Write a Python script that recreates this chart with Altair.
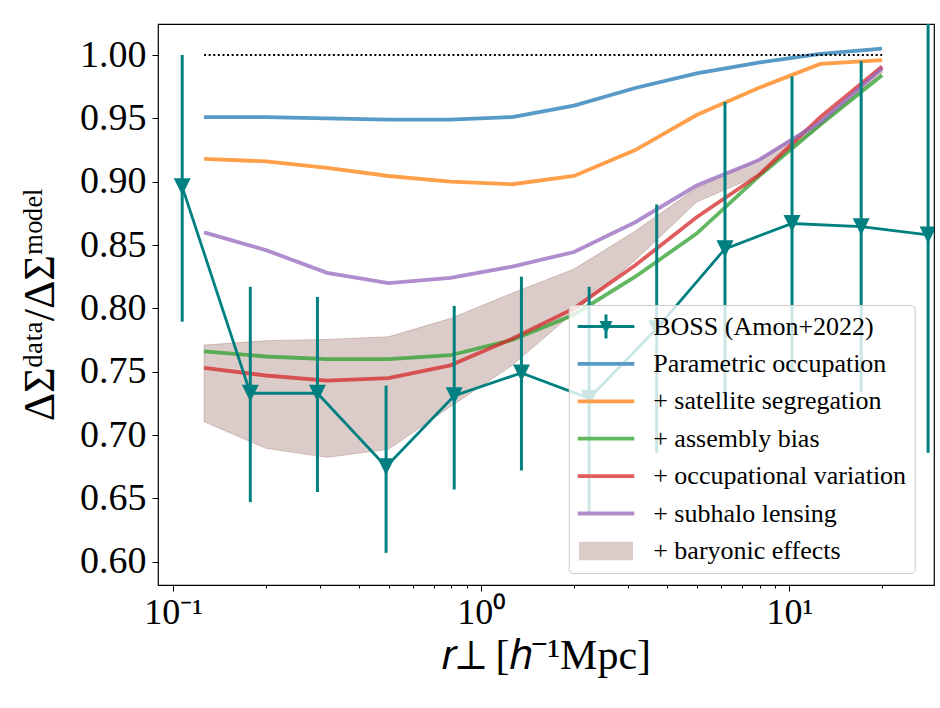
import altair as alt
import pandas as pd

# ---------------- data ----------------
# BOSS measurements (Amon+2022)
boss_r = [0.107, 0.178, 0.294, 0.491, 0.817, 1.35, 2.24, 3.71, 6.18, 10.2, 17.1, 28.2]
boss_ratio = [0.896, 0.733, 0.733, 0.675, 0.731, 0.749, 0.729, 0.784, 0.847, 0.867, 0.8645, 0.858]
boss_lo = [0.7895, 0.647, 0.655, 0.607, 0.657, 0.672, 0.637, 0.686, 0.731, 0.751, 0.734, 0.686]
boss_hi = [1.000, 0.817, 0.809, 0.739, 0.802, 0.825, 0.817, 0.882, 0.963, 0.983, 0.995, 1.030]

# model curves
model_r = [0.126, 0.2, 0.316, 0.5, 0.794, 1.26, 2.0, 3.16, 5.0, 7.94, 12.6, 20.0]
parametric = [0.951, 0.951, 0.950, 0.949, 0.949, 0.951, 0.960, 0.974, 0.9855, 0.994, 1.001, 1.005]
satellite = [0.918, 0.916, 0.911, 0.9045, 0.900, 0.898, 0.9045, 0.925, 0.9526, 0.974, 0.993, 0.996]
assembly = [0.766, 0.762, 0.760, 0.760, 0.763, 0.775, 0.795, 0.825, 0.859, 0.904, 0.945, 0.984]
occupational = [0.753, 0.747, 0.743, 0.745, 0.755, 0.776, 0.800, 0.834, 0.872, 0.905, 0.951, 0.991]
subhalo = [0.860, 0.846, 0.828, 0.820, 0.824, 0.833, 0.8445, 0.868, 0.897, 0.917, 0.947, 0.9895]
baryon_lo = [0.7105, 0.6895, 0.6824, 0.6887, 0.7224, 0.755, 0.797, 0.838, 0.884, 0.905, 0.944, 0.986]
baryon_hi = [0.771, 0.7745, 0.7755, 0.7776, 0.792, 0.812, 0.831, 0.861, 0.895, 0.917, 0.949, 0.990]

reference_level = [1.0]

series_names = ["BOSS (Amon+2022)", "Parametric occupation", "+ satellite segregation",
                "+ assembly bias", "+ occupational variation", "+ subhalo lensing",
                "+ baryonic effects"]
model_names = series_names[1:6]
model_values = [parametric, satellite, assembly, occupational, subhalo]

y_ticks = [0.60, 0.65, 0.70, 0.75, 0.80, 0.85, 0.90, 0.95, 1.00]
x_major = [0.1, 1.0, 10.0]
x_major_labels = ["10\u207b\u00b9", "10\u2070", "10\u00b9"]
x_minor = [0.2, 0.3, 0.4, 0.5, 0.6, 0.7, 0.8, 0.9, 2, 3, 4, 5, 6, 7, 8, 9, 20]

x_title = "\U0001D45F\u22a5 [\u210e\u207b\u00b9Mpc]"
y_title = "\u0394\u03a3\u1d48\u1d43\u1d57\u1d43/\u0394\u03a3\u1d50\u1d52\u1d48\u1d49\u02e1"

# ---------------- styling ----------------
FONT = "Liberation Serif"
TEAL = "#008080"
model_colors = ["#1f77b4", "#ff7f0e", "#2ca02c", "#d62728", "#9467bd"]
BROWN = "#8c564b"
legend_colors = [TEAL, "#5799c7", "#ff9f4a", "#61b861", "#e05d5e", "#af8dcd", "#dcccc9"]

line_path = "M-2.5,-0.38L8.82,-0.38L8.82,0.38L-2.5,0.38Z"
boss_path = ("M-2.5,-0.3L8.82,-0.3L8.82,0.3L-2.5,0.3Z"
             "M2.86,-2.4L3.46,-2.4L3.46,2.4L2.86,2.4Z"
             "M1.86,-1.1L4.46,-1.1L3.16,1.5Z")
band_path = "M-2.24,-1.85L8.56,-1.85L8.56,1.85L-2.24,1.85Z"
legend_paths = [boss_path] + [line_path] * 5 + [band_path]
tri_down = "M0,1L-1,-1L1,-1Z"

# ---------------- tables ----------------
boss_df = pd.DataFrame({"r": boss_r, "ratio": boss_ratio, "lo": boss_lo, "hi": boss_hi})
model_df = pd.concat(
    [pd.DataFrame({"r": model_r, "ratio": vals, "model": name})
     for name, vals in zip(model_names, model_values)],
    ignore_index=True)
band_df = pd.DataFrame({"r": model_r, "lo": baryon_lo, "hi": baryon_hi})
ref_df = pd.DataFrame({"r0": [model_r[0]], "r1": [model_r[-1]], "level": reference_level})
legend_df = pd.DataFrame({"series": series_names})

xscale = alt.Scale(type="log", domain=[0.0893, 29.47], nice=False)
yscale = alt.Scale(domain=[0.5816, 1.0245], nice=False, zero=False)

is_major = "abs(log(datum.value)/LN10 - round(log(datum.value)/LN10)) < 1e-6"
label_expr = "".join(
    "abs(datum.value - %r) < 1e-9 ? '%s' : " % (v, lab) for v, lab in zip(x_major, x_major_labels)
) + "''"

x_axis = alt.Axis(
    orient="bottom", values=x_major + x_minor,
    tickSize={"condition": {"test": is_major, "value": 6}, "value": 3},
    labelPadding=4, labelFontSize=36, labelFlush=False, labelOverlap=False,
    labelExpr=label_expr, title=x_title, titleFontSize=42, titlePadding=5)
y_axis = alt.Axis(values=y_ticks, format=".2f", tickSize=6, labelPadding=6,
                  labelFontSize=38, title=y_title, titleFontSize=44, titlePadding=17)


def X(field):
    return alt.X(field, scale=xscale, axis=x_axis)


def Y(field):
    return alt.Y(field, scale=yscale, axis=y_axis)


band = alt.Chart(band_df).mark_area(
    fill=BROWN, fillOpacity=0.3, stroke=BROWN, strokeOpacity=0.3, strokeWidth=1, clip=True
).encode(x=X("r:Q"), y=Y("lo:Q"), y2="hi:Q")

models = alt.Chart(model_df).mark_line(strokeWidth=3.8, opacity=0.75, clip=True).encode(
    x=X("r:Q"), y=Y("ratio:Q"),
    color=alt.Color("model:N", scale=alt.Scale(domain=model_names, range=model_colors),
                    legend=None),
    order="r:Q",
)

ref_line = alt.Chart(ref_df).mark_rule(color="black", strokeWidth=2,
                                       strokeDash=[2, 2.6]).encode(
    x=X("r0:Q"), x2="r1:Q", y=Y("level:Q"))

errbars = alt.Chart(boss_df).mark_rule(color=TEAL, strokeWidth=3, clip=True).encode(
    x=X("r:Q"), y=Y("lo:Q"), y2="hi:Q")

boss_line = alt.Chart(boss_df).mark_line(color=TEAL, strokeWidth=2.8, clip=True).encode(
    x=X("r:Q"), y=Y("ratio:Q"))

boss_pts = alt.Chart(boss_df).mark_point(shape=tri_down, size=289, filled=True,
                                         color=TEAL, opacity=1, clip=True).encode(
    x=X("r:Q"), y=Y("ratio:Q"))

legend_layer = alt.Chart(legend_df).mark_point(filled=True, opacity=0, size=100).encode(
    fill=alt.Fill("series:N", scale=alt.Scale(domain=series_names, range=legend_colors),
                  legend=alt.Legend(title=None)),
    shape=alt.Shape("series:N", scale=alt.Scale(domain=series_names, range=legend_paths),
                    legend=alt.Legend(title=None)),
)

chart = alt.layer(
    band, models, ref_line, errbars, boss_line, boss_pts, legend_layer
).properties(
    width=776, height=561,
    autosize=alt.AutoSizeParams(type="none"),
    padding={"left": 158, "top": 24, "right": 6, "bottom": 123},
    background="white",
).configure_view(
    stroke="black", strokeWidth=1.2
).configure_axis(
    domain=False, grid=False, tickColor="black", tickWidth=1,
    labelFont=FONT, labelColor="black", titleFont=FONT, titleColor="black",
    titleFontWeight="normal",
).configure_legend(
    orient="none", legendX=410.7, legendY=281, padding=8.5, rowPadding=11.4,
    labelOffset=50, labelFont=FONT, labelFontSize=26, labelColor="black",
    labelLimit=500, symbolSize=100, symbolStrokeWidth=0, symbolOpacity=1,
    fillColor="rgba(255,255,255,0.8)", strokeColor="#cccccc", cornerRadius=4,
)

chart.save("out.html", embed_options={"renderer": "svg", "actions": False})
